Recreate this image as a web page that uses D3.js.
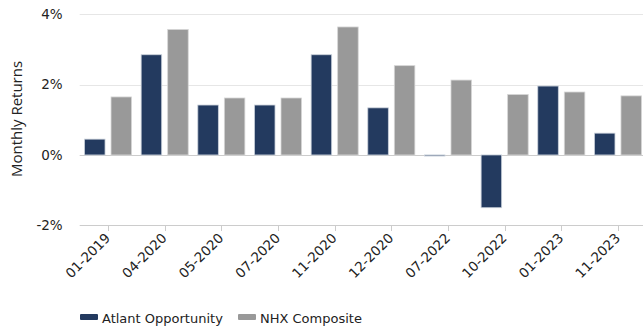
<!DOCTYPE html>
<html><head><meta charset="utf-8">
<script src="https://cdn.jsdelivr.net/npm/d3@7/dist/d3.min.js"></script>
<style>body{margin:0;background:#fff}svg{display:block}</style>
</head><body><svg id="c" width="643" height="329"></svg>
<script>
const categories = ["01-2019","04-2020","05-2020","07-2020","11-2020","12-2020","07-2022","10-2022","01-2023","11-2023"];
const seriesNames = ["Atlant Opportunity","NHX Composite"];
const atlant = [0.45, 2.85, 1.42, 1.42, 2.85, 1.34, -0.03, -1.50, 1.96, 0.62];
const nhx = [1.65, 3.57, 1.62, 1.62, 3.64, 2.54, 2.13, 1.72, 1.79, 1.68];
const yTicks = [-2, 0, 2, 4];
const colors = ["#233a5f", "#999999"];

(function () {
const svg = d3.select("#c");
const pLeft = 79.7, pRight = 646.3, pTop = 14.3, pBottom = 225.3;
const textColor = "#222";
const x0 = d3.scaleBand().domain(categories).range([pLeft, pRight]);
const x1 = d3.scaleBand().domain(seriesNames).range([4.8, x0.bandwidth() - 4.8]).paddingInner(0.226);
const y = d3.scaleLinear().domain([-2, 4]).range([pBottom, pTop]);

// gridlines
svg.append("g").selectAll("line").data(yTicks.filter(t => t !== -2)).join("line")
  .attr("x1", pLeft).attr("x2", 643)
  .attr("y1", d => Math.round(y(d)) + 0.5).attr("y2", d => Math.round(y(d)) + 0.5)
  .attr("stroke", d => d === 0 ? "#cccccc" : "#e6e6e6").attr("stroke-width", 1);

// y labels
svg.append("g").selectAll("text").data(yTicks).join("text")
  .attr("x", 62.7).attr("y", d => y(d)).attr("dy", "0.35em")
  .attr("text-anchor", "end")
  .attr("font-family", "DejaVu Sans, Verdana, sans-serif").attr("font-size", 13.5)
  .attr("fill", textColor).text(d => d + "%");

// y title
svg.append("text").attr("transform", "translate(22,119) rotate(-90)")
  .attr("text-anchor", "middle")
  .attr("font-family", "Open Sans, sans-serif").attr("font-size", 15)
  .attr("fill", textColor).text("Monthly Returns");

// bars
const data = categories.map((c, i) => ({c, vals: [atlant[i], nhx[i]]}));
const g = svg.append("g").selectAll("g").data(data).join("g")
  .attr("transform", d => `translate(${x0(d.c)},0)`);
g.selectAll("rect").data(d => d.vals.map((v, j) => ({v, s: seriesNames[j], j}))).join("rect")
  .attr("x", d => x1(d.s)).attr("width", x1.bandwidth())
  .attr("y", d => y(Math.max(0, d.v))).attr("height", d => Math.max(1, Math.abs(y(d.v) - y(0))))
  .attr("fill", d => colors[d.j])
  .attr("stroke", d => d.j === 0 ? "#c9d0da" : "#d6d6d6").attr("stroke-width", 0.8);

// x axis line
svg.append("line").attr("x1", pLeft).attr("x2", 643)
  .attr("y1", Math.round(pBottom) + 0.5).attr("y2", Math.round(pBottom) + 0.5)
  .attr("stroke", "#cccccc");
// ticks
svg.append("g").selectAll("line").data(categories).join("line")
  .attr("x1", d => Math.round(x0(d) + x0.bandwidth() / 2) + 0.5)
  .attr("x2", d => Math.round(x0(d) + x0.bandwidth() / 2) + 0.5)
  .attr("y1", Math.round(pBottom)).attr("y2", Math.round(pBottom) + 6)
  .attr("stroke", "#cccccc");
// x labels
svg.append("g").selectAll("text").data(categories).join("text")
  .attr("transform", d => `translate(${x0(d) + x0.bandwidth() / 2 + 3},239) rotate(-45)`)
  .attr("text-anchor", "end")
  .attr("font-family", "DejaVu Sans, Verdana, sans-serif").attr("font-size", 13.5)
  .attr("fill", textColor).text(d => d);

// legend
const legX = [80, 238];
const lg = svg.append("g").selectAll("g").data(seriesNames).join("g")
  .attr("transform", (d, i) => `translate(${legX[i]},0)`);
lg.append("rect").attr("x", 0).attr("y", 314).attr("width", 18).attr("height", 6).attr("rx", 1)
  .attr("fill", (d, i) => colors[i]);
lg.append("text").attr("x", 22).attr("y", 322.5)
  .attr("font-family", "DejaVu Sans, Verdana, sans-serif").attr("font-size", 13)
  .attr("fill", textColor).text(d => d);
})();
</script></body></html>
